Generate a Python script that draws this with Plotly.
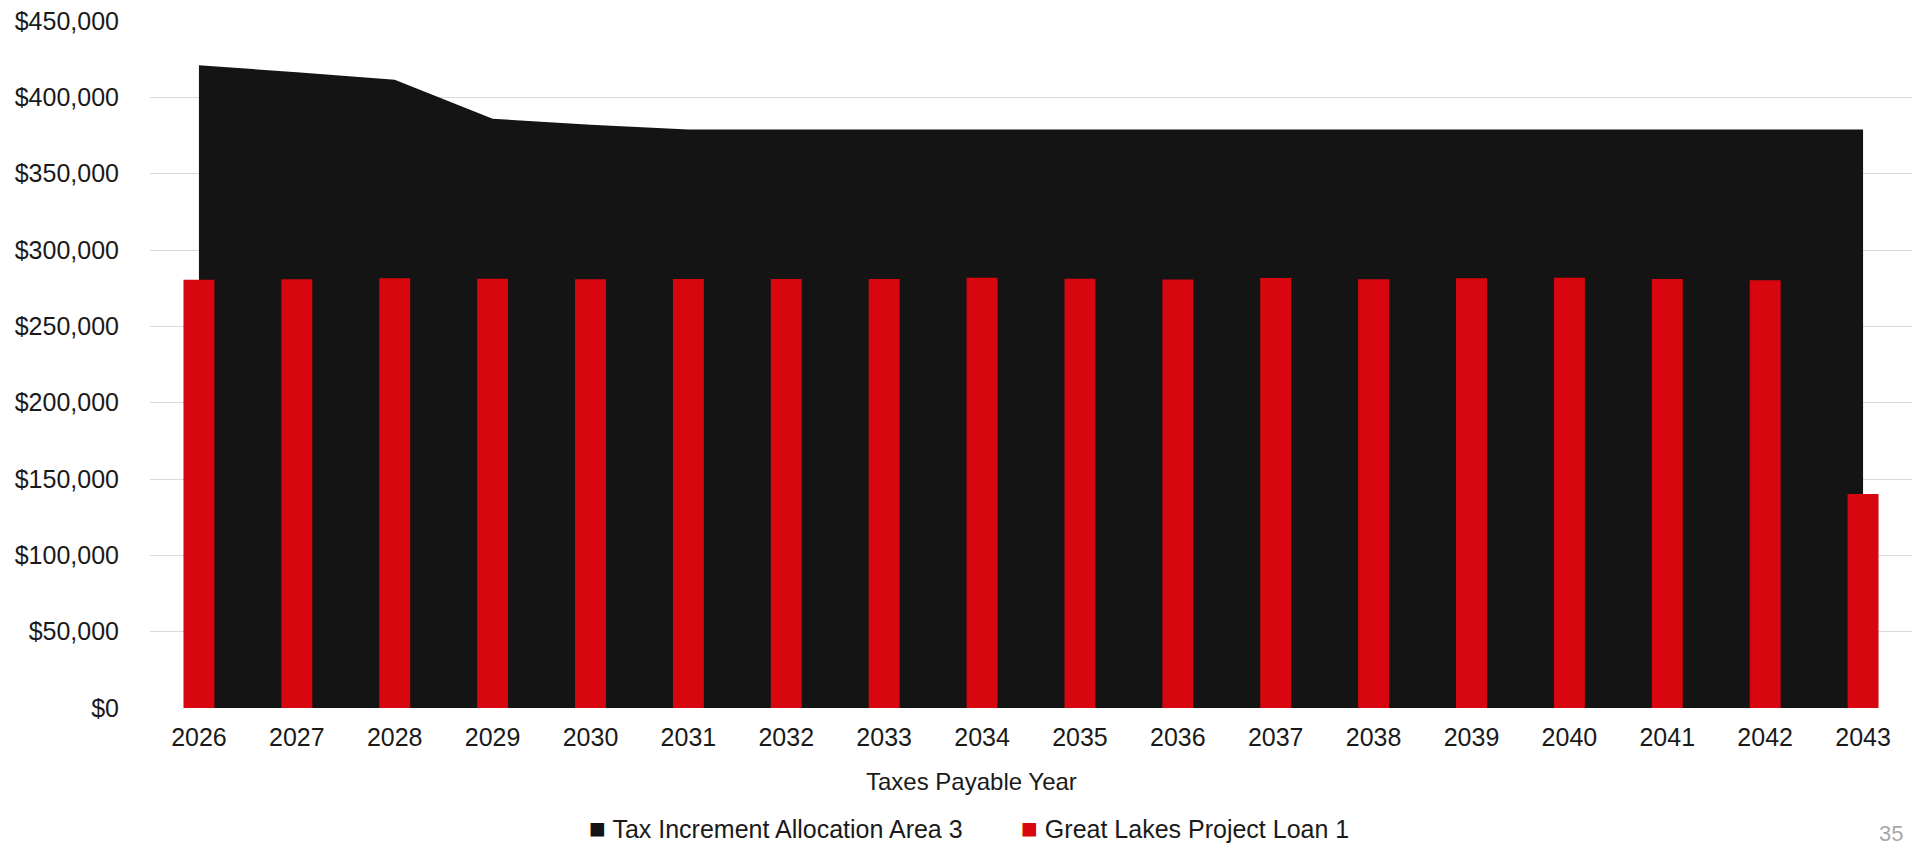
import plotly.graph_objects as go

# Taxes payable years on the category axis
years = [str(y) for y in range(2026, 2044)]

# Tax Increment Allocation Area 3 (area series)
tif_revenue = [421000, 416500, 411500, 386000, 382000,
               379000, 379000, 379000, 379000, 379000,
               379000, 379000, 379000, 379000, 379000,
               379000, 379000, 379000]

# Great Lakes Project Loan 1 (column series)
loan_payment = [280500, 280800, 281500, 281200, 280800,
                281000, 281000, 281000, 281800, 281200,
                280700, 281700, 280800, 281500, 281800,
                281000, 280200, 140200]

# Dollar axis ticks
y_ticks = [0, 50000, 100000, 150000, 200000, 250000, 300000, 350000, 400000, 450000]
y_tick_labels = ["$0", "$50,000", "$100,000", "$150,000", "$200,000",
                 "$250,000", "$300,000", "$350,000", "$400,000", "$450,000"]

FONT = "Liberation Sans, Arial, sans-serif"
AREA_COLOR = "#141414"
BAR_COLOR = "#d8070f"
TEXT_COLOR = "#1a1a1a"

fig = go.Figure()

fig.add_trace(go.Scatter(
    x=years, y=tif_revenue,
    name="Tax Increment Allocation Area 3",
    mode="lines", line=dict(width=0, color=AREA_COLOR),
    fill="tozeroy", fillcolor=AREA_COLOR,
    xaxis="x", yaxis="y",
    showlegend=False,
))

# Columns sit on an overlaid axis so they are drawn above the area
fig.add_trace(go.Bar(
    x=years, y=loan_payment,
    name="Great Lakes Project Loan 1",
    marker=dict(color=BAR_COLOR, line=dict(width=0)),
    width=0.316,
    xaxis="x", yaxis="y2",
    showlegend=False,
))

fig.update_layout(
    width=1919, height=848,
    margin=dict(l=150, r=7, t=21, b=140),
    paper_bgcolor="white", plot_bgcolor="white",
    font=dict(family=FONT, size=25, color=TEXT_COLOR),
    showlegend=False,
    xaxis=dict(
        type="category",
        showgrid=False, zeroline=False,
        showline=False, ticks="",
        tickfont=dict(size=25, color=TEXT_COLOR),
        ticklabelstandoff=12,
    ),
    yaxis=dict(
        range=[0, 450000],
        tickmode="array", tickvals=y_ticks, ticktext=y_tick_labels,
        showgrid=True, gridcolor="#d9d9d9", gridwidth=1,
        zeroline=False, showline=False, ticks="",
        tickfont=dict(size=25, color=TEXT_COLOR),
        ticklabelstandoff=30,
    ),
    yaxis2=dict(
        range=[0, 450000],
        overlaying="y", side="left",
        visible=False, showgrid=False, zeroline=False,
    ),
)

annotations = [
    dict(text="Taxes Payable Year", x=0.4665, y=-0.1077,
         xref="paper", yref="paper", xanchor="center", yanchor="middle",
         showarrow=False, font=dict(size=24, color=TEXT_COLOR)),
    dict(text=f'<span style="font-size:28px;color:{AREA_COLOR}">■</span> Tax Increment Allocation Area 3',
         x=0.2480, y=-0.176, xref="paper", yref="paper",
         xanchor="left", yanchor="middle", showarrow=False,
         font=dict(size=25, color=TEXT_COLOR)),
    dict(text=f'<span style="font-size:28px;color:{BAR_COLOR}">■</span> Great Lakes Project Loan 1',
         x=0.4932, y=-0.176, xref="paper", yref="paper",
         xanchor="left", yanchor="middle", showarrow=False,
         font=dict(size=25, color=TEXT_COLOR)),
    dict(text="35", x=0.996, y=-0.1834, xref="paper", yref="paper",
         xanchor="right", yanchor="middle", showarrow=False,
         font=dict(size=22, color="#a8a8a8")),
]
fig.update_layout(annotations=annotations)

fig.write_html("out.html")
